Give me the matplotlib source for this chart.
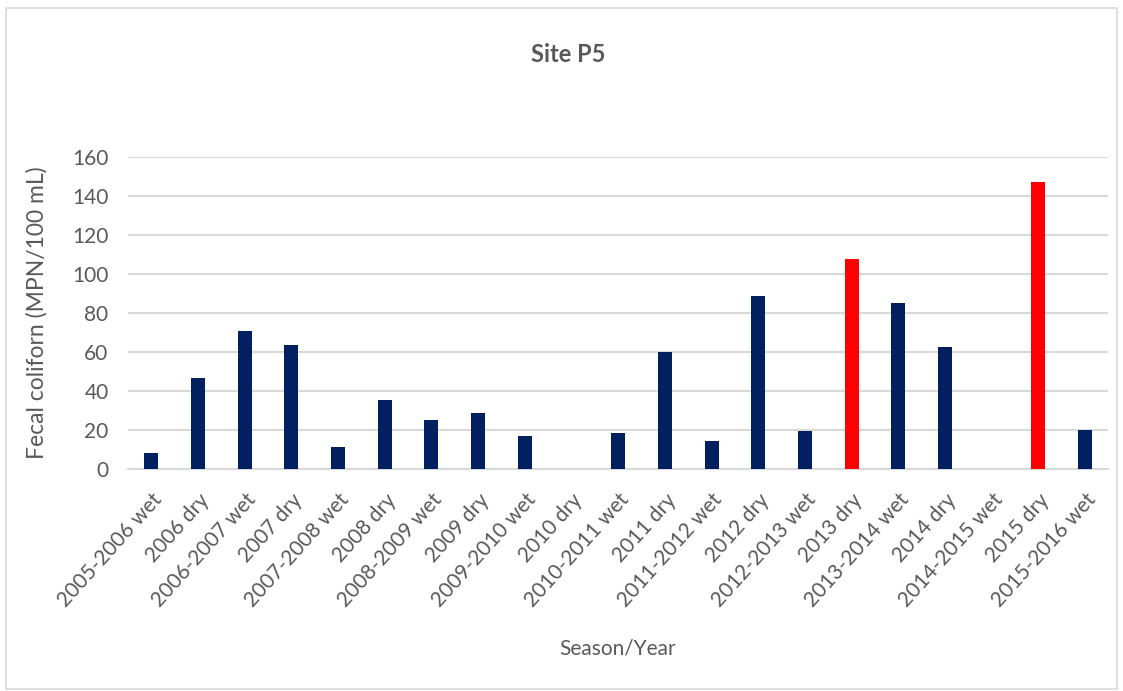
import matplotlib.pyplot as plt
from matplotlib.patches import Rectangle
import numpy as np

plt.rcParams['font.family'] = ['Lato', 'DejaVu Sans']

seasons = ["2005-2006 wet", "2006 dry", "2006-2007 wet", "2007 dry", "2007-2008 wet",
           "2008 dry", "2008-2009 wet", "2009 dry", "2009-2010 wet", "2010 dry",
           "2010-2011 wet", "2011 dry", "2011-2012 wet", "2012 dry", "2012-2013 wet",
           "2013 dry", "2013-2014 wet", "2014 dry", "2014-2015 wet", "2015 dry",
           "2015-2016 wet"]
coliform = [8.5, 46.5, 71, 63.5, 11.3, 35.2, 25.3, 28.7, 16.9, 0,
            18.3, 60, 14.2, 88.7, 19.6, 107.7, 85.1, 62.6, 0, 147, 20.3]
highlight = ["2013 dry", "2015 dry"]

navy = "#002060"
red = "#ff0000"
grey = "#595959"
colors = [red if s in highlight else navy for s in seasons]

fig = plt.figure(figsize=(11.23, 6.91), dpi=100)
ax = fig.add_axes([0.114, 0.321, 0.873, 0.452])

x = np.arange(len(seasons))
ax.bar(x, coliform, width=0.3, color=colors, zorder=3)

ax.set_xlim(-0.5, len(seasons) - 0.5)
ax.set_ylim(0, 160)
ax.set_yticks(np.arange(0, 161, 20))
ax.yaxis.grid(True, color="#d9d9d9", linewidth=1.5, zorder=0)
ax.set_axisbelow(True)
for s in ["top", "right", "left"]:
    ax.spines[s].set_visible(False)
ax.spines["bottom"].set_color("#d9d9d9")
ax.spines["bottom"].set_linewidth(1.5)
ax.tick_params(axis="both", length=0, labelsize=15, labelcolor=grey)
ax.tick_params(axis="y", pad=14)
ax.tick_params(axis="x", pad=15)
ax.set_xticks(x)
ax.set_xticklabels(seasons, rotation=48, ha="right", rotation_mode="anchor")

ax.set_ylabel("Fecal coliforn (MPN/100 mL)", fontsize=16.5, color=grey)
ax.yaxis.set_label_coords(-0.082, 0.5)
fig.text(0.55, 0.062, "Season/Year", fontsize=15, color=grey, ha="center", va="center")
fig.text(0.506, 0.921, "Site P5", fontsize=17, color=grey, ha="center", va="center",
         fontweight="bold")

fig.patches.append(Rectangle((0.005, 0.003), 0.99, 0.985, transform=fig.transFigure,
                             fill=False, edgecolor="#d9d9d9", linewidth=1.2))

fig.savefig("out.png", dpi=100)
